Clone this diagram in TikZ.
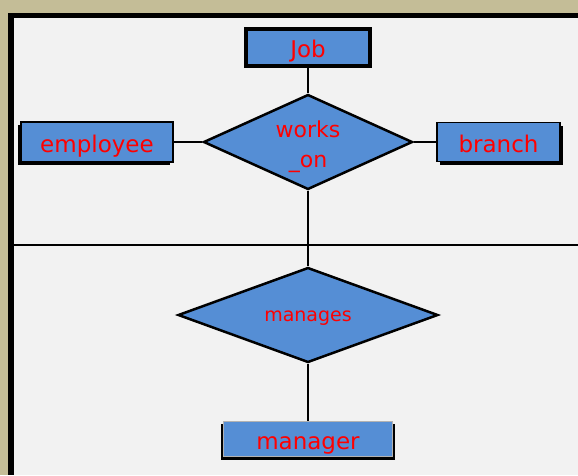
\documentclass[tikz,border=0pt]{standalone}
\usepackage{fontspec}
\setmainfont{DejaVu Sans}
\usetikzlibrary{shapes.geometric,shadows}
\definecolor{tan}{HTML}{C4BD97}
\definecolor{panel}{HTML}{F2F2F2}
\definecolor{entblue}{HTML}{558ED5}
\definecolor{txtred}{HTML}{FF0000}
\tikzset{
  entity/.style={rectangle, draw=black, line width=1.5pt, fill=entblue, text=txtred,
    inner sep=0pt, text height=20pt, text depth=0pt, font=\fontsize{23}{26}\selectfont},
  relation/.style={diamond, draw=black, line width=2.5pt, fill=entblue, text=txtred,
    inner sep=0pt},
  link/.style={draw=black, line width=1.5pt},
}
\begin{document}
\begin{tikzpicture}[x=1pt,y=-1pt]
\useasboundingbox (0,0) rectangle (578,475);
\fill[tan] (0,0) rectangle (578,475);
\fill[black] (8,13) rectangle (578,475);
\fill[panel] (14,18) rectangle (578,475);
\draw[black, line width=1.2pt] (14,245) -- (578,245);

\node[entity, line width=4pt, minimum width=124pt, minimum height=37pt] (job) at (308,47.5) {Job};
\node[entity, minimum width=152pt, minimum height=40pt,
  general shadow={fill=black, shadow xshift=-3pt, shadow yshift=-3pt}] (emp) at (97,142) {employee};
\node[entity, minimum width=123pt, minimum height=39pt,
  general shadow={fill=black, shadow xshift=3pt, shadow yshift=-3pt}] (br) at (498.5,142) {branch};
\node[entity, draw=gray!60, line width=0.8pt, minimum width=169pt, minimum height=35pt,
  text height=22pt, general shadow={fill=black, shadow scale=1.035, shadow yshift=-3pt}] (mgr) at (308,438.5) {manager};

\node[relation, minimum width=209pt, minimum height=95pt, shape aspect=2.2,
  text height=40pt, text depth=21pt,
  font=\fontsize{22}{30}\selectfont] (wo) at (308,142) {\begin{tabular}{@{}c@{}}works\\\_on\end{tabular}};
\node[relation, minimum width=260pt, minimum height=95pt, shape aspect=2.7,
  text height=16pt, text depth=4pt,
  font=\fontsize{19}{22}\selectfont] (mg) at (308,315) {manages};

\draw[link] (job.south) -- (wo.north);
\draw[link] (emp.east) -- (wo.west);
\draw[link] (wo.east) -- (br.west);
\draw[link] (wo.south) -- (mg.north);
\draw[link] (mg.south) -- (mgr.north);
\end{tikzpicture}
\end{document}
